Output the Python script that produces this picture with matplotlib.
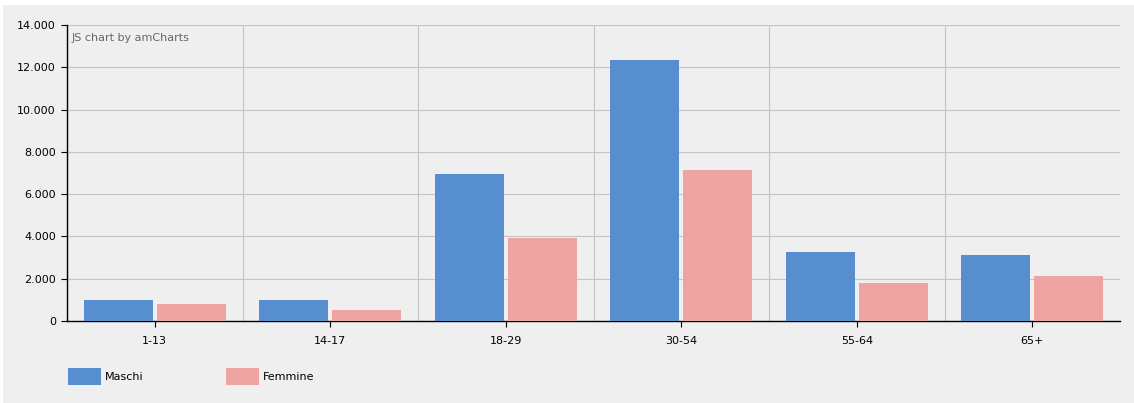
import matplotlib
matplotlib.use('Agg')
import matplotlib.pyplot as plt
import numpy as np
from matplotlib.patches import Rectangle
from matplotlib.ticker import FuncFormatter

categories = ['1-13', '14-17', '18-29', '30-54', '55-64', '65+']
maschi = [1000, 1000, 6960, 12350, 3280, 3100]
femmine = [800, 520, 3940, 7160, 1790, 2110]

blue = '#568ed0'
pink = '#efa4a4'
bg = '#efefef'
grid_col = '#c4c4c4'

W, H = 1134, 403
fig = plt.figure(figsize=(W / 100, H / 100), dpi=100)
fig.patch.set_facecolor('white')
# grey panel (thin white band on top / left)
fig.add_artist(Rectangle((3 / W, 0), 1, 1 - 5 / H, transform=fig.transFigure,
                         facecolor=bg, edgecolor='none', zorder=-10))

ax = fig.add_axes([67 / W, 1 - 321 / H, (1120 - 67) / W, (321 - 25) / H])
ax.set_facecolor(bg)

x = np.arange(len(categories))
w = 0.394
off = 0.208
ax.bar(x - off, maschi, width=w, color=blue, zorder=3)
ax.bar(x + off, femmine, width=w, color=pink, zorder=3)

ax.set_xlim(-0.5, len(categories) - 0.5)
ax.set_ylim(0, 14000)
ax.set_yticks(np.arange(0, 14001, 2000))
ax.yaxis.set_major_formatter(FuncFormatter(lambda v, p: f'{int(v):,}'.replace(',', '.')))
ax.set_xticks(x)
ax.set_xticklabels(categories)
ax.set_xticks(np.arange(-0.5, len(categories)), minor=True)

ax.grid(axis='y', which='major', color=grid_col, linewidth=0.8, zorder=0)
ax.grid(axis='x', which='minor', color=grid_col, linewidth=0.8, zorder=0)
ax.tick_params(axis='x', which='minor', length=0)
ax.tick_params(axis='x', which='major', length=4, width=0.8, pad=7, labelsize=8)
ax.tick_params(axis='y', length=4, width=0.8, pad=4, labelsize=8)

for s in ['top', 'right']:
    ax.spines[s].set_visible(False)
for s in ['left', 'bottom']:
    ax.spines[s].set_color('black')
    ax.spines[s].set_linewidth(1.0)

ax.text(5 / (1120 - 67), 1 - 13 / 296, 'JS chart by amCharts', transform=ax.transAxes,
        fontsize=8, color='#666666', va='center', ha='left')

# legend drawn as swatches + labels
for lx, col, lab in [(68, blue, 'Maschi'), (226, pink, 'Femmine')]:
    fig.add_artist(Rectangle((lx / W, 1 - 385 / H), 33 / W, 17 / H,
                             transform=fig.transFigure, facecolor=col, edgecolor='none'))
    fig.text((lx + 37) / W, 1 - 377 / H, lab, fontsize=8, color='black',
             va='center', ha='left')

fig.savefig('out.png', dpi=100, facecolor=fig.get_facecolor())
